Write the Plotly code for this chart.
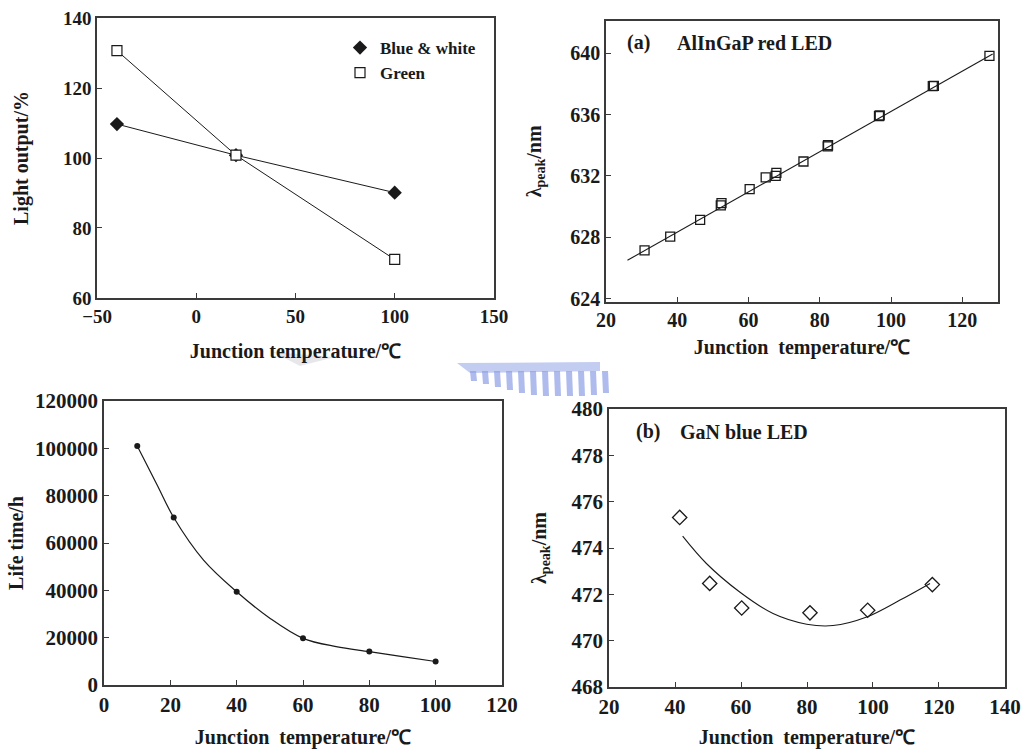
import plotly.graph_objects as go

# ---------------- data ----------------
# Panel 1: light output vs junction temperature
lo_temp = [-40, 20, 100]
lo_blue_white = [109.7, 100.8, 90.1]
lo_green = [130.7, 100.8, 71.0]

# Panel 2: AlInGaP red LED peak wavelength
red_temp = [30.8, 38.0, 46.4, 52.2, 52.4, 60.3, 64.8, 67.6, 67.8, 75.4,
            82.2, 82.3, 96.6, 96.8, 111.7, 112.0, 127.6]
red_peak = [627.15, 628.04, 629.14, 630.08, 630.23, 631.14, 631.9, 632.0,
            632.2, 632.94, 633.92, 634.0, 635.9, 635.95, 637.85, 637.87, 639.83]
red_fit_temp = [26.0, 128.5]
red_fit_peak = [626.5, 639.95]

# Panel 3: life time vs junction temperature
life_temp = [10, 21, 40, 60, 80, 100]
life_hours = [101000, 70800, 39400, 19700, 14100, 9900]
life_curve_temp = [10, 16, 21, 30, 40, 50, 60, 70, 80, 90, 100]
life_curve_hours = [101000, 84500, 70800, 52800, 39400, 28200, 19700, 16200, 14100, 12000, 9900]

# Panel 4: GaN blue LED peak wavelength
blue_temp = [41.4, 50.5, 60.2, 80.9, 98.4, 118.0]
blue_peak = [475.32, 472.47, 471.41, 471.2, 471.31, 472.42]
blue_fit_temp = [42.3, 49.5, 59.6, 69.7, 79.9, 87.9, 98.1, 108.2, 117.3]
blue_fit_peak = [474.51, 473.33, 472.1, 471.17, 470.71, 470.65, 471.02, 471.75, 472.47]

# tick labels / ranges
p1_xticks = [-50, 0, 50, 100, 150]
p1_yticks = [60, 80, 100, 120, 140]
p2_xticks = [20, 40, 60, 80, 100, 120]
p2_yticks = [624, 628, 632, 636, 640]
p3_xticks = [0, 20, 40, 60, 80, 100, 120]
p3_yticks = [0, 20000, 40000, 60000, 80000, 100000, 120000]
p4_xticks = [20, 40, 60, 80, 100, 120, 140]
p4_yticks = [468, 470, 472, 474, 476, 478, 480]

W, H = 1021, 749
FONT = "Liberation Serif, Times New Roman, Tinos, serif"
INK = "#1a1a1a"
FRAME = "#3a3a3a"


def px(x):
    return x / W


def py(y):
    return 1 - y / H


fig = go.Figure()

# Panel 1
fig.add_trace(go.Scatter(x=lo_temp, y=lo_blue_white, mode="lines+markers",
                         line=dict(color=INK, width=1),
                         marker=dict(symbol="diamond", size=11, color=INK),
                         xaxis="x", yaxis="y", showlegend=False))
fig.add_trace(go.Scatter(x=lo_temp, y=lo_green, mode="lines+markers",
                         line=dict(color=INK, width=1),
                         marker=dict(symbol="square", size=10, color="white",
                                     line=dict(color=INK, width=1.2)),
                         xaxis="x", yaxis="y", showlegend=False))
fig.add_trace(go.Scatter(x=[None], y=[None], mode="markers", name="Blue & white",
                         marker=dict(symbol="diamond", size=11, color=INK),
                         xaxis="x", yaxis="y"))
fig.add_trace(go.Scatter(x=[None], y=[None], mode="markers", name="Green",
                         marker=dict(symbol="square", size=10, color="white",
                                     line=dict(color=INK, width=1.2)),
                         xaxis="x", yaxis="y"))

# Panel 2
fig.add_trace(go.Scatter(x=red_fit_temp, y=red_fit_peak, mode="lines",
                         line=dict(color=INK, width=1.1),
                         xaxis="x2", yaxis="y2", showlegend=False))
fig.add_trace(go.Scatter(x=red_temp, y=red_peak, mode="markers",
                         marker=dict(symbol="square-open", size=9, color=INK,
                                     line=dict(width=1.3)),
                         xaxis="x2", yaxis="y2", showlegend=False))

# Panel 3
fig.add_trace(go.Scatter(x=life_curve_temp, y=life_curve_hours, mode="lines",
                         line=dict(color=INK, width=1.2, shape="spline", smoothing=1.0),
                         xaxis="x3", yaxis="y3", showlegend=False))
fig.add_trace(go.Scatter(x=life_temp, y=life_hours, mode="markers",
                         marker=dict(symbol="circle", size=6, color=INK),
                         xaxis="x3", yaxis="y3", showlegend=False))

# Panel 4
fig.add_trace(go.Scatter(x=blue_fit_temp, y=blue_fit_peak, mode="lines",
                         line=dict(color=INK, width=1.1, shape="spline", smoothing=1.0),
                         xaxis="x4", yaxis="y4", showlegend=False))
fig.add_trace(go.Scatter(x=blue_temp, y=blue_peak, mode="markers",
                         marker=dict(symbol="diamond-open", size=11, color=INK,
                                     line=dict(width=1.3)),
                         xaxis="x4", yaxis="y4", showlegend=False))

TFONT = dict(family=FONT, size=20, color=INK, weight="bold")


def axis(domain, rng, ticks, anchor, title, standoff, fsize=20, fmt=None):
    d = dict(domain=domain, range=rng, tickvals=ticks, anchor=anchor,
             automargin=False, ticklabeloverflow="allow",
             showline=True, mirror=True, linecolor=FRAME, linewidth=1.5,
             ticks="inside", ticklen=5, tickcolor=FRAME, tickwidth=1.2,
             showgrid=False, zeroline=False,
             tickfont=dict(family=FONT, size=fsize, color=INK, weight="bold"),
             title=dict(text=title, font=TFONT, standoff=standoff))
    if fmt:
        d["tickformat"] = fmt
    return d


XT1 = "Junction temperature/℃"
XT = "Junction  temperature/℃"
LP = "λ<sub>peak</sub>/nm"

fig.update_layout(
    width=W, height=H,
    margin=dict(l=0, r=0, t=0, b=0, autoexpand=False),
    paper_bgcolor="white", plot_bgcolor="white",
    xaxis=axis([px(97), px(494)], [-50.05, 150.05], p1_xticks, "y", XT1, 18, 19),
    yaxis=axis([py(298), py(18)], [59.98, 140.03], p1_yticks, "x", "Light output/%", 29, 19),
    xaxis2=axis([px(606), px(998)], [19.98, 130], p2_xticks, "y2", XT, 10),
    yaxis2=axis([py(301.7), py(21)], [623.8, 642.1], p2_yticks, "x2", LP, 23),
    xaxis3=axis([px(104), px(502)], [-0.03, 120.03], p3_xticks, "y3", XT, 16, 21),
    yaxis3=axis([py(685), py(401)], [-30, 120030], p3_yticks, "x3", "Life time/h", 6, 21, "d"),
    xaxis4=axis([px(609), px(1005)], [19.97, 140.03], p4_xticks, "y4", XT, 13, 21),
    yaxis4=axis([py(687), py(409)], [467.997, 480.003], p4_yticks, "x4", LP, 20, 21),
    legend=dict(x=px(340), y=py(30), xanchor="left", yanchor="top",
                bgcolor="rgba(0,0,0,0)",
                font=dict(family=FONT, size=17, color=INK, weight="bold"),
                itemwidth=30, tracegroupgap=0),
    showlegend=True,
)

annotations = [
    dict(text="(a)", x=px(638), y=py(42)),
    dict(text="AlInGaP red LED", x=px(754), y=py(43)),
    dict(text="(b)", x=px(648), y=py(431)),
    dict(text="GaN blue LED", x=px(744), y=py(432)),
]
for a in annotations:
    a.update(xref="paper", yref="paper", showarrow=False, font=TFONT,
             xanchor="center", yanchor="middle")
fig.update_layout(annotations=annotations)

# faint scanned watermark remnants (decoration)
shapes = [
    dict(type="path", path=f"M {px(273)},{py(352)} L {px(335)},{py(357)} L {px(300)},{py(366)} Z",
         fillcolor="rgba(160,160,170,0.25)", line=dict(width=0)),
    dict(type="path",
         path=f"M {px(457)},{py(363)} L {px(600)},{py(362)} L {px(600)},{py(371)} L {px(470)},{py(373)} Z",
         fillcolor="rgba(170,182,235,0.7)", line=dict(width=0)),
]
stripe_x = [470, 482, 494, 506, 518, 530, 542, 554, 566, 578, 590, 602]
stripe_len = [10, 13, 16, 19, 22, 24, 25, 25, 25, 25, 24, 22]
for sx, sl in zip(stripe_x, stripe_len):
    shapes.append(dict(type="path",
                       path=f"M {px(sx)},{py(371)} L {px(sx + 6)},{py(371)} L {px(sx + 7)},{py(371 + sl)} L {px(sx + 1)},{py(371 + sl)} Z",
                       fillcolor="rgba(140,158,228,0.7)", line=dict(width=0)))
for s in shapes:
    s.update(xref="paper", yref="paper", layer="below")
fig.update_layout(shapes=shapes)

# remove the browser's default 8px body margin so the figure fills the window exactly
fig.write_html("out.html",
               config={"displayModeBar": False},
               post_script="document.body.style.margin='0';document.body.style.overflow='hidden';")
